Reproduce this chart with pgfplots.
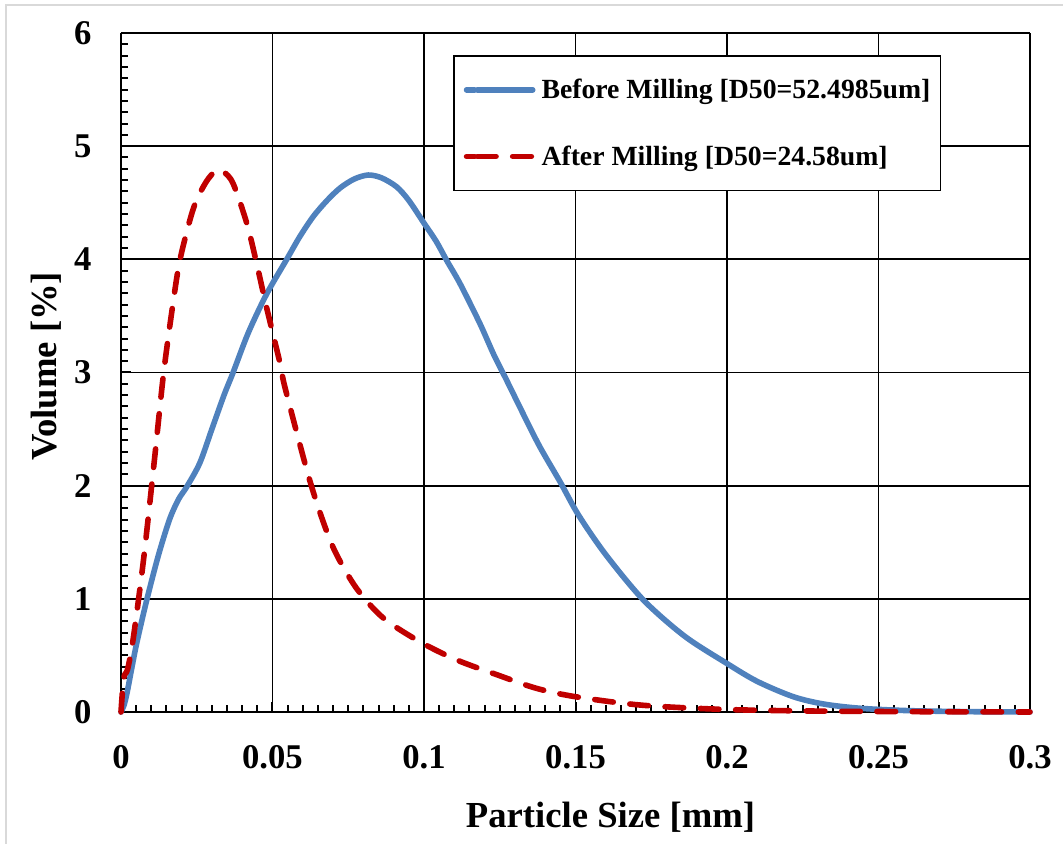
\documentclass[border=0pt]{standalone}
\usepackage{fontspec}
\setmainfont{Liberation Serif}
\usepackage{pgfplots}
\pgfplotsset{compat=1.18}
\definecolor{exblue}{HTML}{4F81BD}
\definecolor{exred}{HTML}{C00000}
\definecolor{framegray}{HTML}{D9D9D9}
\begin{document}
\begin{tikzpicture}
\begin{axis}[
  scale only axis,
  width=681.75pt, height=509.25pt,
  xmin=0, xmax=0.3, ymin=0, ymax=6,
  enlargelimits=false,
  clip=false,
  axis x line*=bottom, axis y line*=left,
  axis line style={black, line width=2pt},
  tick align=inside,
  xtick={0,0.05,0.1,0.15,0.2,0.25,0.3},
  xticklabels={0,0.05,0.1,0.15,0.2,0.25,0.3},
  ytick={0,1,2,3,4,5,6},
  minor x tick num=9, minor y tick num=9,
  major tick length=7.5pt, minor tick length=5pt,
  tick style={black, line width=1.5pt},
  grid=major,
  major grid style={black, line width=1.4pt},
  /pgf/number format/assume math mode=true,
  ticklabel style={font=\fontsize{26}{26}\selectfont\bfseries, inner sep=0pt},
  xticklabel style={anchor=north, yshift=-24.75pt},
  yticklabel style={anchor=east, xshift=-22pt},
  xlabel={Particle Size [mm]},
  ylabel={Volume [\%]},
  label style={font=\fontsize{27.5}{27.5}\selectfont\bfseries, inner sep=0pt},
  xlabel style={at={(axis description cs:0.5385,0)}, anchor=north, yshift=-67pt},
  ylabel style={at={(axis description cs:0,0.509)}, anchor=base, yshift=48pt},
  legend style={at={(axis description cs:0.3652,0.9676)}, anchor=north west,
    draw=black, line width=1.2pt, fill=white,
    inner xsep=7.5pt, inner ysep=13.6pt,
    row sep=26.2pt, column sep=4.5pt,
    font=\fontsize{20.8}{20.8}\selectfont\bfseries,
    nodes={inner sep=0pt, text height=18.8pt, text depth=5pt}},
  legend cell align=left,
  legend image code/.code={\path (-6pt,0pt) -- (0pt,0pt); \draw[#1] (2.1pt,0pt) -- (43.6pt,0pt);},
]
\addplot[exblue, line width=4.2pt, smooth, line cap=round] coordinates {
(0,0) (0.001,0.06) (0.002,0.17) (0.0035,0.38) (0.0052,0.61) (0.0085,0.99)
(0.0123,1.38) (0.016,1.70) (0.019,1.88) (0.0217,1.99) (0.026,2.2)
(0.030,2.5) (0.034,2.80) (0.037,3.0) (0.042,3.35) (0.048,3.69)
(0.0547,4.0) (0.059,4.2) (0.0635,4.38) (0.068,4.52) (0.0723,4.63)
(0.077,4.71) (0.0816,4.745) (0.086,4.72) (0.091,4.64) (0.095,4.52)
(0.1,4.32) (0.104,4.16) (0.1075,3.99) (0.112,3.78) (0.1185,3.43)
(0.123,3.16) (0.1273,2.93) (0.133,2.62) (0.1383,2.34) (0.145,2.03)
(0.151,1.74) (0.16,1.39) (0.1724,0.99) (0.186,0.67) (0.1999,0.43)
(0.21,0.27) (0.2219,0.135) (0.232,0.07) (0.2439,0.033) (0.26,0.012)
(0.28,0.003) (0.3,0)
};
\addlegendentry{Before Milling [D50=52.4985um]}
\addplot[exred, line width=4.2pt, smooth, line cap=round, dash pattern=on 14pt off 12.5pt] coordinates {
(0,0) (0.0009,0.30) (0.0022,0.38) (0.0041,0.66) (0.0075,1.36) (0.011,2.22)
(0.014,2.98) (0.017,3.58) (0.0195,4.0) (0.0239,4.45) (0.028,4.68)
(0.0316,4.79) (0.034,4.77) (0.037,4.67) (0.0415,4.32) (0.0448,3.96)
(0.048,3.58) (0.0525,3.08) (0.0541,2.87) (0.0613,2.14) (0.0657,1.76)
(0.0706,1.42) (0.0778,1.09) (0.0866,0.83) (0.0987,0.62) (0.1108,0.46)
(0.124,0.33) (0.137,0.21) (0.150,0.135) (0.172,0.06) (0.2,0.022)
(0.23,0.008) (0.26,0.003) (0.3,0)
};
\addlegendentry{After Milling [D50=24.58um]}
\end{axis}
\pgfresetboundingbox
\path ([shift={(-90.75pt,-99pt)}]current axis.south west) rectangle ([shift={(25.5pt,24.75pt)}]current axis.north east);
\draw[framegray, line width=1.5pt] ([shift={(-86.25pt,-99pt)}]current axis.south west) -- ([shift={(-86.25pt,21pt)}]current axis.north west) -- ([shift={(24.75pt,21pt)}]current axis.north east);
\end{tikzpicture}
\end{document}
